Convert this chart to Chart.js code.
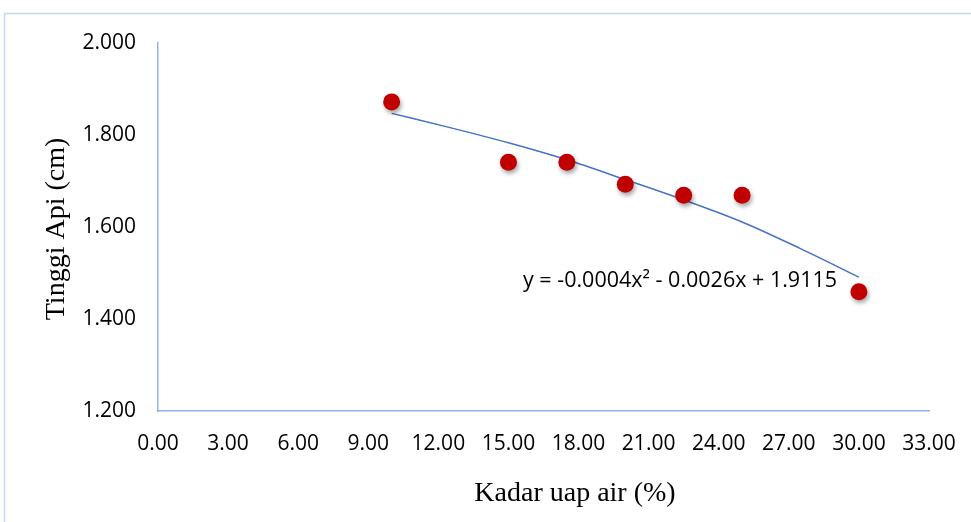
<!DOCTYPE html>
<html>
<head>
<meta charset="utf-8">
<script src="https://cdn.jsdelivr.net/npm/chart.js@4.4.1/dist/chart.umd.min.js"></script>
<style>
  html, body { margin: 0; padding: 0; background: #fff; overflow: hidden; }
  #wrap { width: 971px; height: 522px; position: relative; }
  canvas { display: block; }
</style>
</head>
<body>
<div id="wrap"><canvas id="chart"></canvas></div>
<script>
// measured points (moisture % vs flame height)
const moisture = [10, 15, 17.5, 20, 22.5, 25, 30];
const flameHeight = [1.872, 1.741, 1.741, 1.693, 1.669, 1.669, 1.459];

// polynomial trendline
const trendX = [10, 12.5, 15, 17.5, 20, 22.5, 25, 27.5, 30];
const trendY = [1.847, 1.816, 1.783, 1.746, 1.703, 1.659, 1.611, 1.553, 1.491];

const xTicks = [0, 3, 6, 9, 12, 15, 18, 21, 24, 27, 30, 33];
const yTicks = [1.2, 1.4, 1.6, 1.8, 2.0];

const xTitle = "Kadar uap air (%)";
const yTitle = "Tinggi Api (cm)";
const equation = "y = -0.0004x\u00B2 - 0.0026x + 1.9115";

const axisColor = "#8eb4e3";
const tickFont = { family: "'Open Sans'", size: 21 };

const decorations = {
  id: "decorations",
  beforeDraw(chart) {
    const ctx = chart.ctx;
    ctx.save();
    ctx.strokeStyle = "#c9d8ec";
    ctx.lineWidth = 1.5;
    ctx.strokeRect(4.5, 13.5, 1200, 1200);
    ctx.restore();
  },
  beforeDatasetDraw(chart, args) {
    if (args.index !== 1) return;
    const ctx = chart.ctx;
    ctx.save();
    ctx.shadowColor = "rgba(0,0,0,0.35)";
    ctx.shadowBlur = 4;
    ctx.shadowOffsetX = 1.5;
    ctx.shadowOffsetY = 3;
  },
  afterDatasetDraw(chart, args) {
    if (args.index !== 1) return;
    chart.ctx.restore();
  },
  afterDraw(chart) {
    const ctx = chart.ctx;
    ctx.save();
    ctx.fillStyle = "#000";
    ctx.textBaseline = "middle";
    ctx.font = "28px 'Liberation Serif'";
    ctx.textAlign = "center";
    ctx.fillText(xTitle, 575, 494);
    ctx.translate(57, 229);
    ctx.rotate(-Math.PI / 2);
    ctx.fillText(yTitle, 0, 0);
    ctx.restore();

    ctx.save();
    ctx.fillStyle = "#000";
    ctx.textBaseline = "middle";
    ctx.textAlign = "left";
    ctx.font = "21.5px 'Open Sans'";
    ctx.fillText(equation, 523, 281);
    ctx.restore();
  }
};

new Chart(document.getElementById("chart"), {
  type: "scatter",
  data: {
    datasets: [
      {
        type: "line",
        label: "Poly. trend",
        data: trendX.map((x, i) => ({ x: x, y: trendY[i] })),
        borderColor: "#4472c4",
        borderWidth: 1.5,
        pointRadius: 0,
        fill: false,
        cubicInterpolationMode: "monotone",
        order: 2
      },
      {
        label: "Tinggi Api",
        data: moisture.map((x, i) => ({ x: x, y: flameHeight[i] })),
        backgroundColor: "#c00000",
        borderColor: "#c00000",
        borderWidth: 0,
        pointRadius: 8.5,
        order: 1
      }
    ]
  },
  options: {
    responsive: true,
    maintainAspectRatio: false,
    animation: false,
    layout: { padding: { left: 0, top: 43, right: 42, bottom: 0 } },
    plugins: {
      legend: { display: false },
      tooltip: { enabled: false }
    },
    scales: {
      x: {
        type: "linear",
        min: 0,
        max: 33,
        afterBuildTicks: (axis) => { axis.ticks = xTicks.map(v => ({ value: v })); },
        afterFit: (axis) => {
          axis.height = 111;
          axis.paddingLeft = 0;
          axis.paddingRight = 0;
        },
        grid: { display: false, drawTicks: false },
        border: { display: true, color: axisColor, width: 1.5 },
        ticks: {
          color: "#000",
          font: tickFont,
          padding: 20,
          maxRotation: 0,
          callback: (v) => Number(v).toFixed(2)
        }
      },
      y: {
        type: "linear",
        min: 1.2,
        max: 2.0,
        afterBuildTicks: (axis) => { axis.ticks = yTicks.map(v => ({ value: v })); },
        afterFit: (axis) => { axis.width = 158; },
        grid: { display: false, drawTicks: false },
        border: { display: true, color: axisColor, width: 1.5 },
        ticks: {
          color: "#000",
          font: tickFont,
          padding: 22,
          callback: (v) => Number(v).toFixed(3)
        }
      }
    }
  },
  plugins: [decorations]
});
</script>
</body>
</html>
